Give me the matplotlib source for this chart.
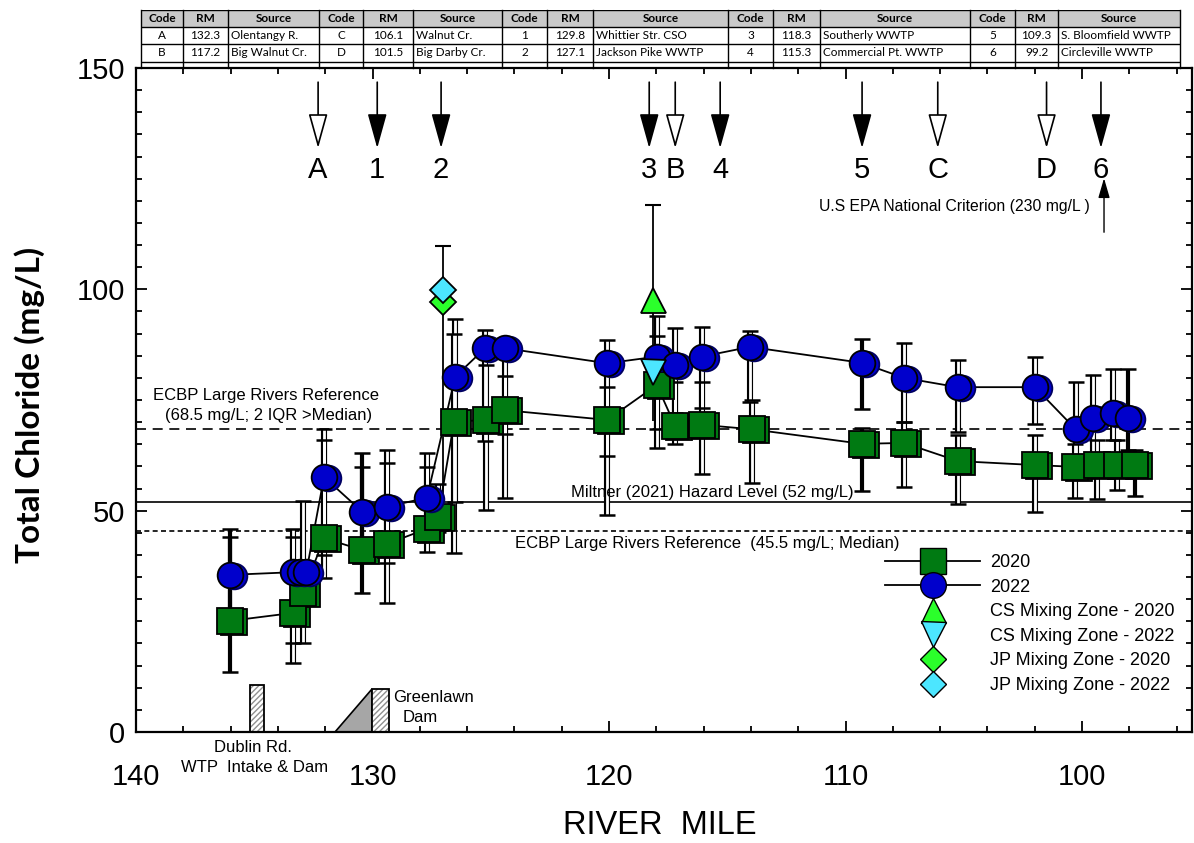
import numpy as np
import matplotlib
matplotlib.use('Agg')
import matplotlib.pyplot as plt
from matplotlib.patches import Rectangle, Polygon
from matplotlib.lines import Line2D
from matplotlib.transforms import offset_copy

plt.rcParams['font.family'] = ['Liberation Sans', 'DejaVu Sans']

# ---- source table (code, river mile, name) ----
tab_code = [['A', 'C', '1', '3', '5'], ['B', 'D', '2', '4', '6']]
tab_rm = [[132.3, 106.1, 129.8, 118.3, 109.3], [117.2, 101.5, 127.1, 115.3, 99.2]]
tab_src = [['Olentangy R.', 'Walnut Cr.', 'Whittier Str. CSO', 'Southerly WWTP', 'S. Bloomfield WWTP'],
           ['Big Walnut Cr.', 'Big Darby Cr.', 'Jackson Pike WWTP', 'Commercial Pt. WWTP', 'Circleville WWTP']]

# ---- 2022 survey ----
rm_22 = [136.03, 133.36, 133.07, 132.8, 132.05, 130.44, 129.39, 127.70, 126.50, 125.24, 124.40,
         120.07, 117.98, 117.20, 116.08, 114.04, 109.32, 107.53, 105.26, 101.99, 100.27, 99.53,
         98.69, 98.05]
cl_22 = [35.5, 36.1, 36.1, 36.1, 57.6, 49.8, 50.9, 52.9, 80.3, 86.7, 86.7,
         83.3, 84.8, 82.9, 84.8, 87.0, 83.4, 80.0, 77.9, 77.9, 68.4, 70.9,
         72.1, 70.9]
lo_22 = [27.0, 20.0, np.nan, np.nan, 40.0, 40.0, 38.2, 45.0, 52.0, 65.8, 67.3,
         62.4, 68.4, 72.0, 73.1, 74.6, 72.9, 70.1, 67.8, 69.6, 58.0, 60.0,
         66.0, 63.7]
hi_22 = [45.8, 45.8, np.nan, np.nan, 68.5, 63.0, 63.7, 63.0, 93.2, 90.8, 88.9,
         88.6, 94.0, 91.2, 91.6, 90.6, 88.7, 87.8, 84.0, 84.8, 79.1, 80.6,
         82.0, 82.0]
open_22 = [0, 1, 1, 1, 1, 0, 1, 1, 1, 1, 1, 1, 1, 1, 1, 1, 0, 1, 1, 1, 1, 1, 1, 0]

# ---- 2020 survey ----
rm_20 = [136.03, 133.36, 132.94, 132.05, 130.44, 129.39, 127.70, 127.23, 126.55, 125.21, 124.40,
         120.07, 117.98, 117.20, 116.08, 113.97, 109.30, 107.53, 105.24, 101.99, 100.30, 99.37,
         98.52, 97.76]
cl_20 = [25.1, 26.9, 31.4, 43.8, 41.1, 42.5, 45.9, 48.6, 70.1, 70.5, 72.7,
         70.5, 78.4, 69.1, 69.4, 68.4, 65.1, 65.3, 61.2, 60.3, 59.9, 60.3,
         60.3, 60.3]
lo_20 = [13.5, 15.6, 20.2, 34.8, 31.4, 29.2, 40.7, 45.2, 40.5, 50.2, 52.9,
         49.0, 64.2, 65.0, 58.3, 56.2, 54.5, 55.4, 51.5, 49.6, 52.9, 52.6,
         54.7, 53.4]
hi_20 = [44.1, 44.0, 52.2, 66.0, 59.9, 60.8, 59.9, 56.0, 90.0, 82.9, 80.4,
         78.0, 89.5, 79.1, 79.0, 75.0, 68.6, 70.1, 67.0, 67.1, 65.0, 66.0,
         66.0, 63.7]
open_20 = [0, 1, 1, 1, 0, 1, 1, 1, 1, 1, 1, 1, 1, 1, 1, 1, 0, 1, 1, 1, 1, 1, 1, 0]

# ---- mixing zone samples ----
cs_rm, cs_20, cs_22 = 118.13, 97.6, 81.4
cs_20_lo, cs_20_hi = 70.3, 119.0
jp_rm, jp_20, jp_22 = 127.0, 97.2, 99.85
jp_lo, jp_hi = 52.0, 109.9

# ---- reference levels (mg/L) ----
ecbp_upper = 68.5
hazard = 52.0
ecbp_median = 45.5
epa_rm = 99.07

# ---- dams ----
dublin_x = (135.18, 134.59)
dublin_h = 10.6
green_x = (131.59, 130.02, 129.30)
green_h = 9.7

GREEN = '#007a12'
BLUE = '#0000cc'
LGREEN = '#2bff2b'
CYAN = '#4ce6ff'

fig = plt.figure(figsize=(11.94, 8.43), dpi=100)
ax = fig.add_axes([136/1194, 1-732/843, 1056/1194, 664/843])
ax.set_xlim(140, 95.35)
ax.set_ylim(0, 150)

cap = 0.34


def bars(x, lo, hi, hollow, z=2):
    for xi, l, h, hv in zip(x, lo, hi, hollow):
        if np.isnan(l):
            continue
        if hv:
            ax.vlines(xi, l, h, colors='k', lw=4.4, zorder=z)
            ax.vlines(xi, l, h, colors='w', lw=2.0, zorder=z + 0.1)
        else:
            ax.vlines(xi, l, h, colors='k', lw=3.0, zorder=z)
        ax.hlines([l, h], xi - cap, xi + cap, colors='k', lw=1.8, zorder=z + 0.2)


bars(rm_20, lo_20, hi_20, open_20)
bars(rm_22, lo_22, hi_22, open_22)

# mixing zone bars (thin)
ax.vlines(cs_rm, cs_20_lo, cs_20_hi, colors='k', lw=1.3, zorder=2.5)
ax.hlines(cs_20_hi, cs_rm - cap, cs_rm + cap, colors='k', lw=1.5, zorder=2.5)
ax.vlines(jp_rm, jp_lo, jp_hi, colors='k', lw=1.3, zorder=2.5)
ax.hlines(jp_hi, jp_rm - cap, jp_rm + cap, colors='k', lw=1.5, zorder=2.5)

# reference lines
ax.axhline(ecbp_upper, color='k', lw=1.2, ls=(0, (6, 4)), zorder=1)
ax.axhline(hazard, color='k', lw=1.2, zorder=1)
ax.axhline(ecbp_median, color='k', lw=1.2, ls=(0, (3, 2)), zorder=1)

# connecting lines
ax.plot(rm_20, cl_20, color='k', lw=1.3, zorder=3)
ax.plot(rm_22, cl_22, color='k', lw=1.3, zorder=3)

shadow = offset_copy(ax.transData, fig=fig, x=4, y=-1, units='dots')
ax.plot(rm_20, cl_20, 's', ms=18.5, mfc=GREEN, mec='k', mew=1.3, transform=shadow, zorder=4)
ax.plot(rm_20, cl_20, 's', ms=18.5, mfc=GREEN, mec='k', mew=1.3, zorder=4.5)
ax.plot(rm_22, cl_22, 'o', ms=18.5, mfc=BLUE, mec='#000060', mew=1.3, transform=shadow, zorder=5)
ax.plot(rm_22, cl_22, 'o', ms=18.5, mfc=BLUE, mec='k', mew=1.3, zorder=5.5)

ax.plot(cs_rm, cs_20, '^', ms=18, mfc=LGREEN, mec='k', mew=1.3, zorder=6)
ax.plot(cs_rm, cs_22, 'v', ms=18, mfc=CYAN, mec='k', mew=1.3, zorder=6)
ax.plot(jp_rm, jp_20, 'D', ms=13, mfc=LGREEN, mec='k', mew=1.3, zorder=6)
ax.plot(jp_rm, jp_22, 'D', ms=13, mfc=CYAN, mec='k', mew=1.3, zorder=6.1)

# source arrows along the top
for row_c, row_r in zip(tab_code, tab_rm):
    for c, r in zip(row_c, row_r):
        fc = 'w' if c.isalpha() else 'k'
        ax.annotate('', xy=(r, 131.9), xytext=(r, 146.8),
                    arrowprops=dict(arrowstyle='-|>,head_length=1.8,head_width=0.5',
                                    fc=fc, ec='k', lw=1.2, mutation_scale=12,
                                    shrinkA=0, shrinkB=0))
        ax.text(r, 127.0, c, ha='center', va='center', fontsize=21)

# EPA criterion is off the scale
ax.annotate('', xy=(epa_rm, 125.1), xytext=(epa_rm, 112.9),
            arrowprops=dict(arrowstyle='-|>,head_length=1.2,head_width=0.35',
                            fc='k', ec='k', lw=1.0, mutation_scale=10,
                            shrinkA=0, shrinkB=0))
ax.text(99.66, 118.6, 'U.S EPA National Criterion (230 mg/L )', ha='right', va='center',
        fontsize=11.3)

ax.text(134.5, 76.1, 'ECBP Large Rivers Reference', ha='center', va='center', fontsize=12)
ax.text(134.4, 71.4, '(68.5 mg/L; 2 IQR >Median)', ha='center', va='center', fontsize=12)
ax.text(115.64, 54.0, 'Miltner (2021) Hazard Level (52 mg/L)', ha='center', va='center',
        fontsize=12)
ax.text(115.86, 42.6, 'ECBP Large Rivers Reference  (45.5 mg/L; Median)', ha='center',
        va='center', fontsize=12)

# dams
ax.add_patch(Rectangle((dublin_x[0], 0), dublin_x[1] - dublin_x[0], dublin_h,
                       fc='w', ec='#909090', hatch='//////', lw=0, zorder=2))
ax.add_patch(Rectangle((dublin_x[0], 0), dublin_x[1] - dublin_x[0], dublin_h,
                       fill=False, ec='k', lw=1.3, zorder=2.1))
ax.add_patch(Polygon([(green_x[0], 0), (green_x[1], 0), (green_x[1], green_h)],
                     closed=True, fc='#a6a6a6', ec='k', lw=1.2, zorder=2))
ax.add_patch(Rectangle((green_x[1], 0), green_x[2] - green_x[1], green_h,
                       fc='w', ec='#909090', hatch='//////', lw=0, zorder=2))
ax.add_patch(Rectangle((green_x[1], 0), green_x[2] - green_x[1], green_h,
                       fill=False, ec='k', lw=1.3, zorder=2.1))
ax.text(129.13, 7.9, 'Greenlawn', ha='left', va='center', fontsize=12)
ax.text(128.0, 3.2, 'Dam', ha='center', va='center', fontsize=12)
ax.text(135.05, -3.4, 'Dublin Rd.', ha='center', va='center', fontsize=12, clip_on=False)
ax.text(135.0, -8.1, 'WTP  Intake & Dam', ha='center', va='center', fontsize=12, clip_on=False)

# axes styling
ax.set_xticks(np.arange(100, 141, 10))
ax.set_xticks(np.arange(96, 141, 2), minor=True)
ax.set_yticks(np.arange(0, 151, 50))
ax.set_yticks(np.arange(0, 151, 5), minor=True)
ax.tick_params(which='both', direction='in', top=True, right=True, width=1.3, labelsize=21)
ax.tick_params(which='major', length=8)
ax.tick_params(which='minor', length=4.5)
ax.tick_params(axis='x', pad=22)
ax.tick_params(axis='y', pad=8)
for s in ax.spines.values():
    s.set_linewidth(1.6)

fig.text(660/1194, 1-825/843, 'RIVER  MILE', ha='center', va='center', fontsize=23.5)
fig.text(30/1194, 1-405/843, 'Total Chloride (mg/L)', ha='center', va='center',
         rotation=90, fontsize=24, fontweight='bold', family=['Lato', 'DejaVu Sans'])

# legend
handles = [
    Line2D([], [], color='k', lw=1.3, marker='s', ms=18.5, mfc=GREEN, mec='k'),
    Line2D([], [], color='k', lw=1.3, marker='o', ms=18.5, mfc=BLUE, mec='k'),
    Line2D([], [], ls='none', marker='^', ms=18, mfc=LGREEN, mec='k'),
    Line2D([], [], ls='none', marker='v', ms=18, mfc=CYAN, mec='k'),
    Line2D([], [], ls='none', marker='D', ms=13, mfc=LGREEN, mec='k'),
    Line2D([], [], ls='none', marker='D', ms=13, mfc=CYAN, mec='k'),
]
labels = ['2020', '2022', 'CS Mixing Zone - 2020', 'CS Mixing Zone - 2022',
          'JP Mixing Zone - 2020', 'JP Mixing Zone - 2022']
ax.legend(handles, labels, loc='upper left', bbox_to_anchor=(0.709, 0.268),
          frameon=False, fontsize=13, handlelength=5.3, handletextpad=0.55,
          labelspacing=0.42, borderaxespad=0, borderpad=0)

# source table above the plot
tax = fig.add_axes([141/1194, 1-68/843, (1180-141)/1194, 58/843])
tax.set_xlim(141, 1180)
tax.set_ylim(68, 10)
tax.axis('off')
col_edges = [141, 183, 228, 319, 363, 413, 502, 547, 593, 728, 773, 820, 970, 1015, 1058, 1180]
row_edges = [10, 27, 44, 62]
TFONT = ['Lato', 'DejaVu Sans']
tax.add_patch(Rectangle((141, 10), 1180 - 141, 17, fc='#c9c9c9', ec='none'))
for x in col_edges:
    tax.plot([x, x], [10, 68], color='k', lw=1.0, clip_on=False)
for y in row_edges:
    tax.plot([141, 1180], [y, y], color='k', lw=1.0)
for g in range(5):
    x0, x1, x2, x3 = col_edges[3*g:3*g + 4]
    yh = (row_edges[0] + row_edges[1]) / 2
    tax.text((x0 + x1)/2, yh, 'Code', ha='center', va='center', fontsize=8.5,
             fontweight='bold', family=TFONT)
    tax.text((x1 + x2)/2, yh, 'RM', ha='center', va='center', fontsize=8.5,
             fontweight='bold', family=TFONT)
    tax.text((x2 + x3)/2, yh, 'Source', ha='center', va='center', fontsize=8.5,
             fontweight='bold', family=TFONT)
    for r in range(2):
        yc = (row_edges[r + 1] + row_edges[r + 2]) / 2
        tax.text((x0 + x1)/2, yc, tab_code[r][g], ha='center', va='center', fontsize=8.5,
                 family=TFONT)
        tax.text((x1 + x2)/2, yc, f'{tab_rm[r][g]:.1f}', ha='center', va='center',
                 fontsize=8.5, family=TFONT)
        tax.text(x2 + 3, yc, tab_src[r][g], ha='left', va='center', fontsize=8.5,
                 family=TFONT)

fig.savefig('out.png', dpi=100)
